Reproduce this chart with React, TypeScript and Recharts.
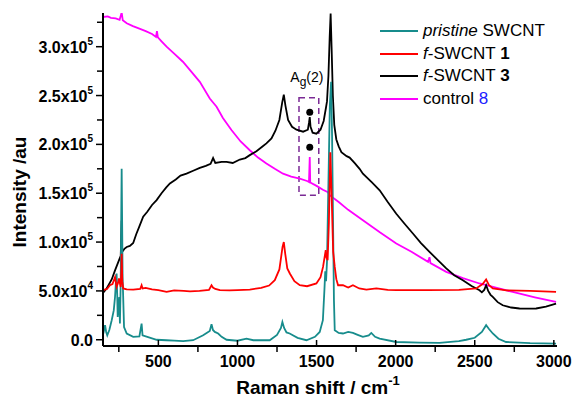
import React from 'react';
import {
  LineChart,
  Line,
  XAxis,
  YAxis,
  ReferenceArea,
  ReferenceDot,
} from 'recharts';

// Raman spectra, [shift cm-1, intensity]
const pristine = [
  [152, 6400], [163, 14900], [170, 8000], [177, 4600], [190, 10000], [205, 20000],
  [218, 30000], [226, 43800], [232, 60000], [236, 67800], [240, 45000], [243, 23400],
  [248, 35000], [253, 43800], [257, 16600], [262, 60000], [266, 140000], [268, 175000],
  [271, 120000], [274, 64000], [283, 13000], [300, 6400], [341, 3000], [380, 3500],
  [394, 16600], [400, 4600], [440, 2500], [489, 0], [550, -500], [600, -1000],
  [657, -1500], [720, -500], [783, 4600], [815, 8000], [825, 9000], [836, 16000],
  [845, 10000], [857, 8000], [878, 6400], [900, 3000], [931, 0], [1000, -1000],
  [1057, 1200], [1100, -500], [1204, -500], [1250, 5000], [1275, 12000], [1284, 18200],
  [1295, 12000], [1310, 7500], [1330, 6400], [1380, 2000], [1436, -500], [1490, 3000],
  [1520, 8000], [1540, 20000], [1550, 52000], [1555, 70000], [1560, 60000], [1566, 80000],
  [1575, 160000], [1584, 240000], [1592, 264000], [1598, 210000], [1605, 110000],
  [1610, 40000], [1615, 9800], [1640, 7000], [1667, 6400], [1700, 8000], [1730, 7000],
  [1760, 5000], [1793, 2900], [1830, 4500], [1846, 7000], [1870, 3000], [1899, 1200],
  [2004, -2300], [2150, -3000], [2277, -3300], [2400, -1500], [2446, 0], [2500, 2000],
  [2545, 8000], [2572, 14900], [2590, 11000], [2614, 6400], [2650, 1000], [2698, -2300],
  [2850, -3500], [3014, -3900],
];

const fSwcnt1 = [
  [150, 50700], [175, 52000], [194, 55800], [210, 57000], [226, 64000], [236, 54000],
  [245, 58000], [251, 62700], [262, 54000], [266, 70000], [268, 88000], [272, 60000],
  [278, 52500], [300, 51500], [341, 51400], [385, 52000], [394, 55800], [400, 52500],
  [420, 53000], [460, 51500], [500, 50700], [552, 49000], [600, 50500], [660, 50000],
  [700, 49500], [760, 50000], [820, 51000], [836, 55800], [845, 53500], [860, 52000],
  [889, 50700], [950, 50500], [1000, 50800], [1078, 51400], [1150, 53000], [1200, 55500],
  [1236, 61000], [1265, 72000], [1285, 95000], [1293, 100000], [1302, 88000], [1315, 73000],
  [1331, 67800], [1360, 60000], [1394, 55800], [1440, 54800], [1499, 57600], [1525, 64000],
  [1541, 74600], [1558, 91700], [1563, 84000], [1570, 81500], [1578, 120000], [1587, 192000],
  [1595, 150000], [1605, 90000], [1615, 74600], [1625, 62000], [1636, 55800], [1667, 55800],
  [1700, 53500], [1730, 55800], [1770, 52500], [1815, 51400], [1878, 52500], [1950, 51000],
  [2004, 50700], [2200, 50700], [2400, 51000], [2509, 52500], [2550, 57000], [2572, 61700],
  [2590, 56000], [2614, 52500], [2700, 50500], [2850, 50000], [3014, 49000],
];

const fSwcnt3 = [
  [150, 48000], [173, 52500], [205, 61700], [226, 71000], [247, 79700], [262, 86000],
  [268, 122000], [271, 90000], [285, 93000], [300, 95000], [320, 96000], [341, 99000],
  [360, 108000], [380, 116000], [404, 126000], [430, 131000], [460, 138000], [489, 143000],
  [520, 150000], [550, 156000], [573, 160000], [610, 164000], [640, 168000], [678, 170000],
  [720, 173000], [762, 176000], [800, 178000], [830, 180000], [846, 186000], [860, 181000],
  [900, 182000], [931, 182000], [970, 181000], [1015, 184500], [1050, 186000], [1078, 189000],
  [1120, 193000], [1160, 198000], [1183, 201000], [1215, 206000], [1240, 214000],
  [1265, 225000], [1283, 243000], [1293, 251000], [1303, 240000], [1320, 225000],
  [1345, 218000], [1373, 215000], [1415, 213000], [1445, 215000], [1452, 222000],
  [1457, 228000], [1462, 218000], [1475, 212000], [1499, 211000], [1525, 215000],
  [1545, 224000], [1560, 238000], [1566, 244000], [1575, 270000], [1583, 310000],
  [1589, 334000], [1595, 300000], [1603, 250000], [1612, 220000], [1625, 205000],
  [1640, 198000], [1657, 192000], [1690, 188000], [1709, 186500], [1740, 181000],
  [1772, 175000], [1793, 170000], [1850, 161000], [1899, 153000], [1950, 141000],
  [2004, 129000], [2055, 119000], [2109, 108800], [2160, 99000], [2214, 90000],
  [2270, 81000], [2320, 73000], [2370, 66000], [2425, 61000], [2480, 55000], [2530, 50700],
  [2545, 48500], [2560, 51000], [2572, 55800], [2585, 50000], [2600, 46000], [2614, 43800],
  [2645, 38500], [2677, 35300], [2730, 33000], [2783, 32000], [2840, 31800], [2888, 32000],
  [2950, 33800], [3014, 37000],
];

const control8 = [
  [150, 330400], [180, 331000], [200, 329500], [230, 329000], [255, 327500], [268, 335000],
  [275, 327000], [300, 324000], [339, 321000], [380, 318500], [420, 316000], [460, 313000],
  [485, 310000], [491, 316000], [497, 309500], [520, 305500], [552, 300000], [600, 293000],
  [655, 284600], [700, 276000], [762, 264000], [825, 247000], [868, 238500], [908, 227000],
  [962, 214700], [1020, 203000], [1078, 194000], [1130, 186500], [1183, 180500],
  [1236, 175000], [1288, 170000], [1340, 167000], [1394, 165000], [1440, 162500],
  [1452, 161500], [1457, 187000], [1460, 161000], [1500, 157500], [1540, 153500],
  [1572, 151000], [1583, 148000], [1640, 141000], [1700, 133000], [1793, 122400],
  [1900, 110000], [2004, 98600], [2100, 90000], [2205, 79800], [2214, 84500], [2220, 78500],
  [2320, 69500], [2425, 63000], [2530, 57600], [2640, 53000], [2740, 49000], [2880, 43500],
  [3014, 38700],
];

const xTicks = [250, 500, 750, 1000, 1250, 1500, 1750, 2000, 2250, 2500, 2750, 3000];
const yTicks = [0, 25000, 50000, 75000, 100000, 125000, 150000, 175000, 200000, 225000, 250000, 275000, 300000, 325000];

const agBox = { x1: 1389, x2: 1514, y1: 148000, y2: 247700 };
const agDots = [233000, 197000];

const toPts = (arr: number[][]) => arr.map(([x, y]) => ({ x, y }));

const TEAL = '#178c8c';

const series = [
  { key: 'control', data: control8, color: '#ff00ff' },
  { key: 'f3', data: fSwcnt3, color: '#000000' },
  { key: 'pristine', data: pristine, color: TEAL },
  { key: 'f1', data: fSwcnt1, color: '#ff0000' },
];

const FONT = "'Liberation Sans', Arial, sans-serif";
const AXIS_X = 103;
const AXIS_Y = 346;

const YTick = (props: any) => {
  const { y, payload } = props;
  const v = payload.value;
  if (v % 50000 !== 0) {
    return <line x1={AXIS_X - 6} x2={AXIS_X} y1={y} y2={y} stroke="#000" strokeWidth={1.5} />;
  }
  let mant = '0.0';
  let exp = '';
  if (v !== 0) {
    const e = Math.floor(Math.log10(v));
    mant = (v / Math.pow(10, e)).toFixed(1);
    exp = String(e);
  }
  return (
    <g>
      <line x1={AXIS_X - 7} x2={AXIS_X} y1={y} y2={y} stroke="#000" strokeWidth={1.5} />
      <text x={AXIS_X - 10} y={y + 6} textAnchor="end" fontFamily={FONT} fontWeight="bold" fontSize={16} fill="#000">
        {exp ? mant + 'x10' : mant}
        {exp && <tspan dy={-8} fontSize={10}>{exp}</tspan>}
      </text>
    </g>
  );
};

const XTick = (props: any) => {
  const { x, payload } = props;
  const v = payload.value;
  if (v % 500 !== 0) {
    return <line x1={x} x2={x} y1={AXIS_Y} y2={AXIS_Y + 6} stroke="#000" strokeWidth={1.5} />;
  }
  return (
    <g>
      <line x1={x} x2={x} y1={AXIS_Y - 6} y2={AXIS_Y} stroke="#000" strokeWidth={1.5} />
      <text x={x} y={367} textAnchor="middle" fontFamily={FONT} fontWeight="bold" fontSize={16} fill="#000">
        {v}
      </text>
    </g>
  );
};

const legendRows = [
  { color: TEAL, label: <><i>pristine</i> SWCNT</> },
  { color: '#ff0000', label: <><i>f</i>-SWCNT <b>1</b></> },
  { color: '#000000', label: <><i>f</i>-SWCNT <b>3</b></> },
  { color: '#ff00ff', label: <>control <span style={{ color: '#2020ff' }}>8</span></> },
];

export default function App() {
  return (
    <div style={{ position: 'relative', width: 574, height: 399, background: '#fff' }}>
      <style>{'body{margin:0}'}</style>
      <LineChart width={574} height={399} margin={{ top: 13, right: 17, bottom: 0, left: 0 }}>
        <XAxis
          type="number"
          dataKey="x"
          domain={[150, 3020]}
          allowDataOverflow
          ticks={xTicks}
          tick={<XTick />}
          tickLine={false}
          axisLine={{ stroke: '#000', strokeWidth: 2 }}
          height={53}
          label={{
            content: () => (
              <text x={318} y={394} textAnchor="middle" fontFamily={FONT} fontWeight="bold" fontSize={19} fill="#000">
                Raman shift / cm<tspan dy={-9} fontSize={13}>-1</tspan>
              </text>
            ),
          }}
        />
        <YAxis
          type="number"
          domain={[-6400, 334500]}
          allowDataOverflow
          ticks={yTicks}
          tick={<YTick />}
          tickLine={false}
          axisLine={{ stroke: '#000', strokeWidth: 2 }}
          width={103}
          label={{
            content: () => (
              <text
                x={19}
                y={192}
                transform="rotate(-90, 19, 192)"
                textAnchor="middle"
                dominantBaseline="central"
                fontFamily={FONT}
                fontWeight="bold"
                fontSize={19}
                fill="#000"
              >
                Intensity /au
              </text>
            ),
          }}
        />
        {series.map((s) => (
          <Line
            key={s.key}
            data={toPts(s.data)}
            dataKey="y"
            type="linear"
            stroke={s.color}
            strokeWidth={1.8}
            dot={false}
            isAnimationActive={false}
          />
        ))}
        <ReferenceArea
          x1={agBox.x1}
          x2={agBox.x2}
          y1={agBox.y1}
          y2={agBox.y2}
          fill="none"
          stroke="#7b2a95"
          strokeWidth={1.5}
          strokeDasharray="6 4"
          label={{
            content: (p: any) => {
              const vb = p.viewBox;
              const cx = vb.x + vb.width / 2 - 2;
              return (
                <text x={cx} y={vb.y - 16} textAnchor="middle" fontFamily={FONT} fontSize={14} fill="#000">
                  A<tspan dy={4} fontSize={12}>g</tspan>
                  <tspan dy={-4}>(2)</tspan>
                </text>
              );
            },
          }}
        />
        {agDots.map((yv) => (
          <ReferenceDot key={yv} x={1457} y={yv} r={3.5} fill="#000" stroke="none" />
        ))}
      </LineChart>
      <div style={{ position: 'absolute', left: 380, top: 20, fontFamily: FONT, fontSize: 17, color: '#000' }}>
        {legendRows.map((r, i) => (
          <div key={i} style={{ display: 'flex', alignItems: 'center', height: 22.5, whiteSpace: 'nowrap' }}>
            <span style={{ display: 'inline-block', width: 38, height: 2, background: r.color, marginRight: 5 }} />
            <span>{r.label}</span>
          </div>
        ))}
      </div>
    </div>
  );
}
